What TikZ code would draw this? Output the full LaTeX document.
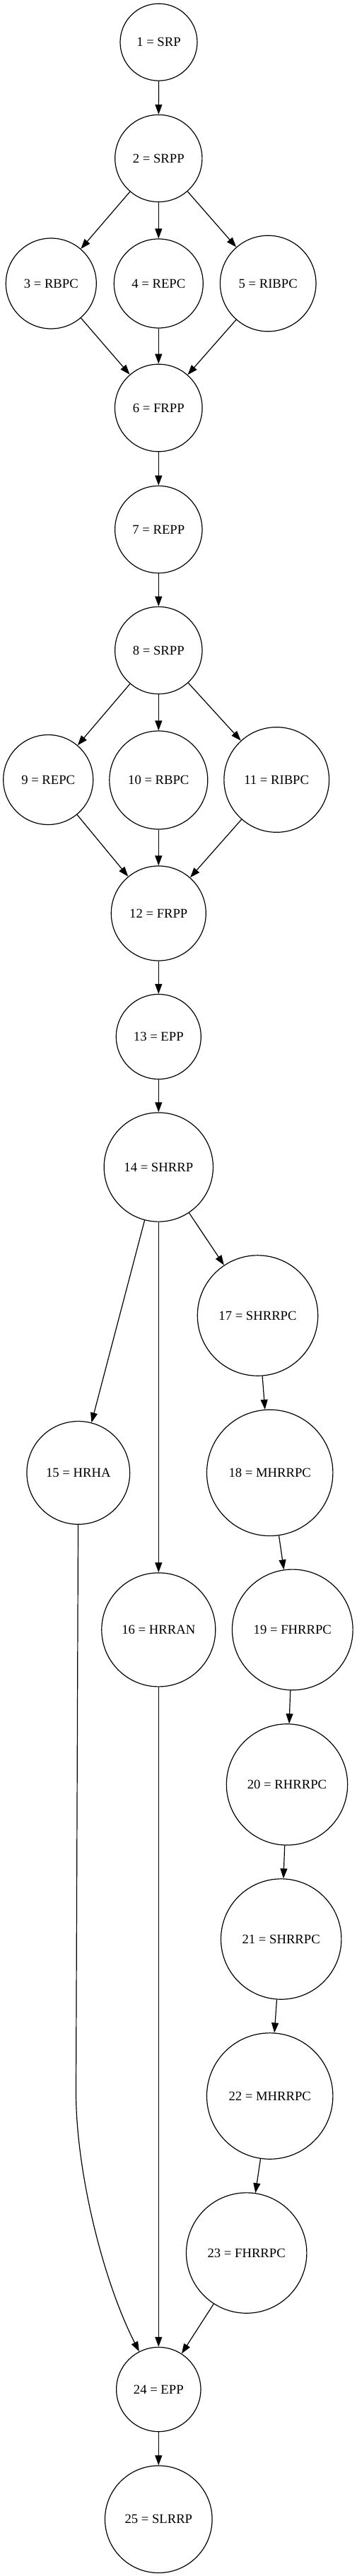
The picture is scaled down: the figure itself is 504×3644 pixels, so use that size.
\documentclass[tikz,border=0pt]{standalone}
\usepackage{fontspec}
\setmainfont{Liberation Serif}
\usetikzlibrary{arrows.meta}
\begin{document}
\begin{tikzpicture}[x=0.75pt,y=-0.75pt,
  gnode/.style={circle,draw,line width=0.9pt,inner sep=0pt,font=\fontsize{14pt}{16pt}\selectfont},
  arr/.style={draw,line width=0.9pt,-{Triangle[length=10.5pt,width=7.5pt]}}]
\fill[white] (0,0) rectangle (504,3644);
\useasboundingbox (0,0) rectangle (504,3644);
\node[gnode,minimum size=81.75pt] (n1) at (224.5,59.7) {1 = SRP};
\node[gnode,minimum size=92.4pt] (n2) at (224.3,224) {2 = SRP{}P};
\node[gnode,minimum size=96pt] (n3) at (72.3,401) {3 = RBPC};
\node[gnode,minimum size=94.5pt] (n4) at (224.3,401) {4 = REPC};
\node[gnode,minimum size=101.7pt] (n5) at (379.2,401) {5 = RIBPC};
\node[gnode,minimum size=92.7pt] (n6) at (224.3,577) {6 = FRPP};
\node[gnode,minimum size=92.5pt] (n7) at (224.3,749) {7 = REPP};
\node[gnode,minimum size=92.5pt] (n8) at (224.3,920) {8 = SRPP};
\node[gnode,minimum size=95.25pt] (n9) at (68.2,1103) {9 = REPC};
\node[gnode,minimum size=104.25pt] (n10) at (224.3,1103.5) {10 = RBPC};
\node[gnode,minimum size=111.5pt] (n11) at (391.2,1103) {11 = RIBPC};
\node[gnode,minimum size=100.5pt] (n12) at (224.3,1292) {12 = FRPP};
\node[gnode,minimum size=90pt] (n13) at (224.3,1466.5) {13 = EPP};
\node[gnode,minimum size=115.7pt] (n14) at (224.3,1651) {14 = SHRRP};
\node[gnode,minimum size=109.3pt] (n15) at (110.8,2083.4) {15 = HRHA};
\node[gnode,minimum size=120.75pt] (n16) at (224.3,2305.4) {16 = HRRAN};
\node[gnode,minimum size=127.8pt] (n17) at (364.5,1861) {17 = SHRRPC};
\node[gnode,minimum size=133.8pt] (n18) at (381.7,2083.4) {18 = MHRRPC};
\node[gnode,minimum size=128pt] (n19) at (413.8,2305.4) {19 = FHRRPC};
\node[gnode,minimum size=128.5pt] (n20) at (406,2524.4) {20 = RHRRPC};
\node[gnode,minimum size=127.8pt] (n21) at (397.7,2743) {21 = SHRRPC};
\node[gnode,minimum size=133.8pt] (n22) at (381.7,2965) {22 = MHRRPC};
\node[gnode,minimum size=127.8pt] (n23) at (348.7,3187) {23 = FHRRPC};
\node[gnode,minimum size=89.5pt] (n24) at (224.3,3380) {24 = EPP};
\node[gnode,minimum size=113.7pt] (n25) at (224.3,3563.7) {25 = SLRRP};
\coordinate (c15a) at (107.5,2960);
\coordinate (c15b) at (107.5,3070);
\coordinate (c15c) at (145,3225);
\draw[arr] (n1) -- (n2);
\draw[arr] (n2) -- (n3);
\draw[arr] (n2) -- (n4);
\draw[arr] (n2) -- (n5);
\draw[arr] (n3) -- (n6);
\draw[arr] (n4) -- (n6);
\draw[arr] (n5) -- (n6);
\draw[arr] (n6) -- (n7);
\draw[arr] (n7) -- (n8);
\draw[arr] (n8) -- (n9);
\draw[arr] (n8) -- (n10);
\draw[arr] (n8) -- (n11);
\draw[arr] (n9) -- (n12);
\draw[arr] (n10) -- (n12);
\draw[arr] (n11) -- (n12);
\draw[arr] (n12) -- (n13);
\draw[arr] (n13) -- (n14);
\draw[arr] (n14) -- (n15);
\draw[arr] (n14) -- (n16);
\draw[arr] (n14) -- (n17);
\draw[arr] (n17) -- (n18);
\draw[arr] (n18) -- (n19);
\draw[arr] (n19) -- (n20);
\draw[arr] (n20) -- (n21);
\draw[arr] (n21) -- (n22);
\draw[arr] (n22) -- (n23);
\draw[arr] (n15) -- (c15a) .. controls (c15b) and (c15c) .. (n24);
\draw[arr] (n16) -- (n24);
\draw[arr] (n23) -- (n24);
\draw[arr] (n24) -- (n25);
\end{tikzpicture}
\end{document}
